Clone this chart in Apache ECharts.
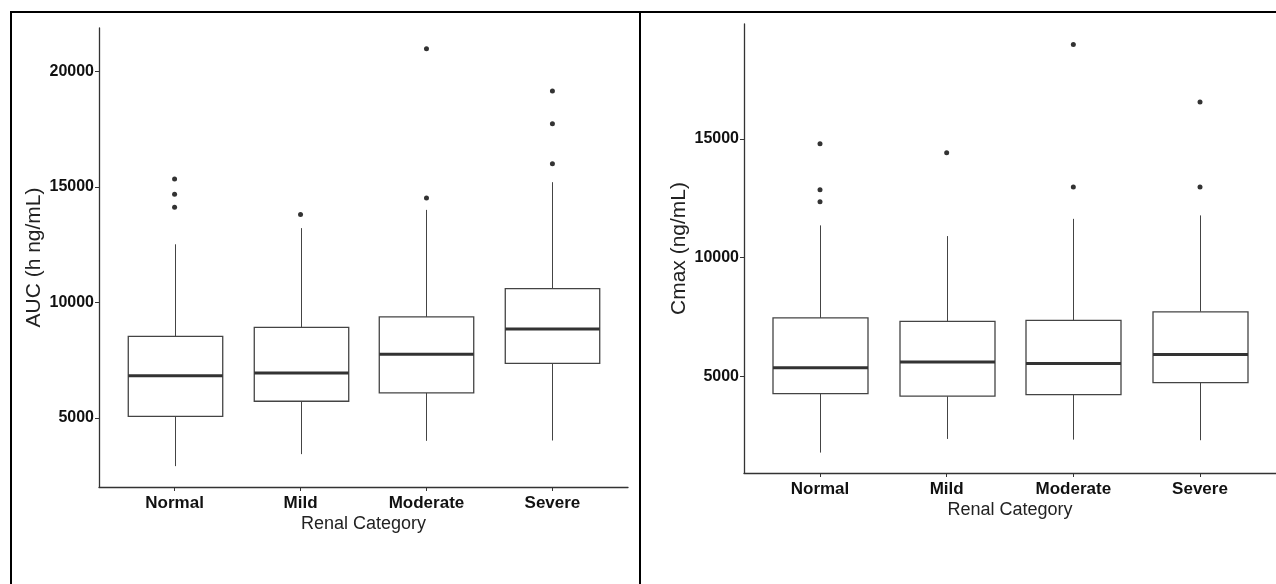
<!DOCTYPE html>
<html>
<head>
<meta charset="utf-8">
<title>AUC and Cmax by Renal Category</title>
<script src="https://cdn.jsdelivr.net/npm/echarts@6/dist/echarts.min.js"></script>
<style>
  html, body { margin: 0; padding: 0; background: #ffffff; }
  #chart { width: 1276px; height: 584px; }
</style>
</head>
<body>
<div id="chart"></div>
<script>
// Renal function groups, in display order
const categories = ['Normal', 'Mild', 'Moderate', 'Severe'];

// AUC (h ng/mL): whisker ends, quartiles and median per group
const aucLow    = [2910, 3430, 4005, 4020];
const aucQ1     = [5065, 5720, 6085, 7365];
const aucMedian = [6825, 6940, 7760, 8855];
const aucQ3     = [8530, 8925, 9375, 10600];
const aucHigh   = [12520, 13220, 14010, 15210];
// AUC outliers per group
const aucOutliers = [
  [15350, 14690, 14125],
  [13810],
  [20985, 14520],
  [19165, 17740, 16010]
];

// Cmax (ng/mL): whisker ends, quartiles and median per group
const cmaxLow    = [1800, 2375, 2345, 2320];
const cmaxQ1     = [4285, 4175, 4240, 4745];
const cmaxMedian = [5375, 5610, 5550, 5930];
const cmaxQ3     = [7465, 7320, 7360, 7725];
const cmaxHigh   = [11360, 10910, 11635, 11780];
// Cmax outliers per group
const cmaxOutliers = [
  [14795, 12855, 12350],
  [14420],
  [18975, 12980],
  [16550, 12980]
];

// Tick labels of the value axes
const aucTicks  = [5000, 10000, 15000, 20000];
const cmaxTicks = [5000, 10000, 15000];

const xTitle = 'Renal Category';
const aucTitle = 'AUC (h ng/mL)';
const cmaxTitle = 'Cmax (ng/mL)';

// ---------------------------------------------------------------------------
const BOX_WIDTH = 0.75;   // box width in category units
const EXPAND = 0.6;       // discrete axis padding on each side

const font = '"Liberation Sans", Arial, Helvetica, sans-serif';
const ink = '#333333';

function boxRows(low, q1, med, q3, high) {
  return categories.map((c, i) => [i + 1, low[i], q1[i], med[i], q3[i], high[i]]);
}
function outlierRows(groups) {
  const rows = [];
  groups.forEach((g, i) => g.forEach(v => rows.push([i + 1, v])));
  return rows;
}
// 5% padding around the data range, as for a continuous scale
function paddedRange(lows, highs, outliers) {
  const all = lows.concat(highs);
  outliers.forEach(g => g.forEach(v => all.push(v)));
  const lo = Math.min.apply(null, all), hi = Math.max.apply(null, all);
  const pad = (hi - lo) * 0.05;
  return [lo - pad, hi + pad];
}

function renderBox(params, api) {
  const x = api.value(0);
  const half = api.size([BOX_WIDTH, 0])[0] / 2;
  const pLow = api.coord([x, api.value(1)]);
  const pQ1 = api.coord([x, api.value(2)]);
  const pMed = api.coord([x, api.value(3)]);
  const pQ3 = api.coord([x, api.value(4)]);
  const pHigh = api.coord([x, api.value(5)]);
  const cx = Math.round(pMed[0]) + 0.5;
  return {
    type: 'group',
    children: [
      { type: 'line', shape: { x1: cx, y1: pQ3[1], x2: cx, y2: pHigh[1] },
        style: { stroke: '#444', lineWidth: 1 } },
      { type: 'line', shape: { x1: cx, y1: pQ1[1], x2: cx, y2: pLow[1] },
        style: { stroke: '#444', lineWidth: 1 } },
      { type: 'rect', shape: { x: cx - half, y: pQ3[1], width: half * 2, height: pQ1[1] - pQ3[1] },
        style: { fill: '#ffffff', stroke: '#444', lineWidth: 1.3 } },
      { type: 'line', shape: { x1: cx - half, y1: pMed[1], x2: cx + half, y2: pMed[1] },
        style: { stroke: ink, lineWidth: 3 } }
    ]
  };
}

function xAxisFor(gridIndex) {
  return {
    type: 'value',
    gridIndex: gridIndex,
    min: 1 - EXPAND,
    max: categories.length + EXPAND,
    name: xTitle,
    nameLocation: 'middle',
    nameGap: 28,
    nameMoveOverlap: false,
    nameTextStyle: { fontFamily: font, fontSize: 18, color: '#222' },
    axisLine: { show: true, onZero: false, lineStyle: { color: ink, width: 1.3 } },
    axisTick: { show: true, length: 4, lineStyle: { color: ink }, customValues: categories.map((c, i) => i + 1) },
    axisLabel: {
      customValues: categories.map((c, i) => i + 1),
      formatter: v => categories[Math.round(v) - 1],
      fontFamily: font, fontWeight: 'bold', fontSize: 17, color: '#111', margin: 8
    },
    splitLine: { show: false }
  };
}

function yAxisFor(gridIndex, range, ticks, title) {
  return {
    type: 'value',
    gridIndex: gridIndex,
    min: range[0],
    max: range[1],
    name: title,
    nameLocation: 'middle',
    nameGap: 54,
    nameRotate: 90,
    nameMoveOverlap: false,
    nameTextStyle: { fontFamily: font, fontSize: 21, color: '#222' },
    axisLine: { show: true, onZero: false, lineStyle: { color: ink, width: 1.3 } },
    axisTick: { show: true, length: 4, lineStyle: { color: ink }, customValues: ticks },
    axisLabel: {
      customValues: ticks,
      formatter: v => String(Math.round(v)),
      fontFamily: font, fontWeight: 'bold', fontSize: 16, color: '#111', margin: 5
    },
    splitLine: { show: false }
  };
}

const aucRange = paddedRange(aucLow, aucHigh, aucOutliers);
const cmaxRange = paddedRange(cmaxLow, cmaxHigh, cmaxOutliers);

const chart = echarts.init(document.getElementById('chart'), null, { renderer: 'canvas' });

chart.setOption({
  backgroundColor: '#ffffff',
  animation: false,
  grid: [
    { left: 99, right: 648, top: 28, bottom: 97 },
    { left: 744, right: 0, top: 24, bottom: 111 }
  ],
  xAxis: [xAxisFor(0), xAxisFor(1)],
  yAxis: [
    yAxisFor(0, aucRange, aucTicks, aucTitle),
    yAxisFor(1, cmaxRange, cmaxTicks, cmaxTitle)
  ],
  series: [
    {
      type: 'custom', xAxisIndex: 0, yAxisIndex: 0, clip: false,
      renderItem: renderBox,
      encode: { x: 0, y: [1, 2, 3, 4, 5] },
      data: boxRows(aucLow, aucQ1, aucMedian, aucQ3, aucHigh)
    },
    {
      type: 'scatter', xAxisIndex: 0, yAxisIndex: 0,
      symbolSize: 5, itemStyle: { color: '#000' },
      data: outlierRows(aucOutliers)
    },
    {
      type: 'custom', xAxisIndex: 1, yAxisIndex: 1, clip: false,
      renderItem: renderBox,
      encode: { x: 0, y: [1, 2, 3, 4, 5] },
      data: boxRows(cmaxLow, cmaxQ1, cmaxMedian, cmaxQ3, cmaxHigh)
    },
    {
      type: 'scatter', xAxisIndex: 1, yAxisIndex: 1,
      symbolSize: 5, itemStyle: { color: '#000' },
      data: outlierRows(cmaxOutliers)
    }
  ],
  // frame around the two panels
  graphic: [
    { type: 'line', shape: { x1: 10, y1: 12, x2: 1276, y2: 12 }, style: { stroke: '#000', lineWidth: 2 } },
    { type: 'line', shape: { x1: 11, y1: 11, x2: 11, y2: 584 }, style: { stroke: '#000', lineWidth: 2 } },
    { type: 'line', shape: { x1: 640, y1: 11, x2: 640, y2: 584 }, style: { stroke: '#000', lineWidth: 2 } }
  ]
});
</script>
</body>
</html>
